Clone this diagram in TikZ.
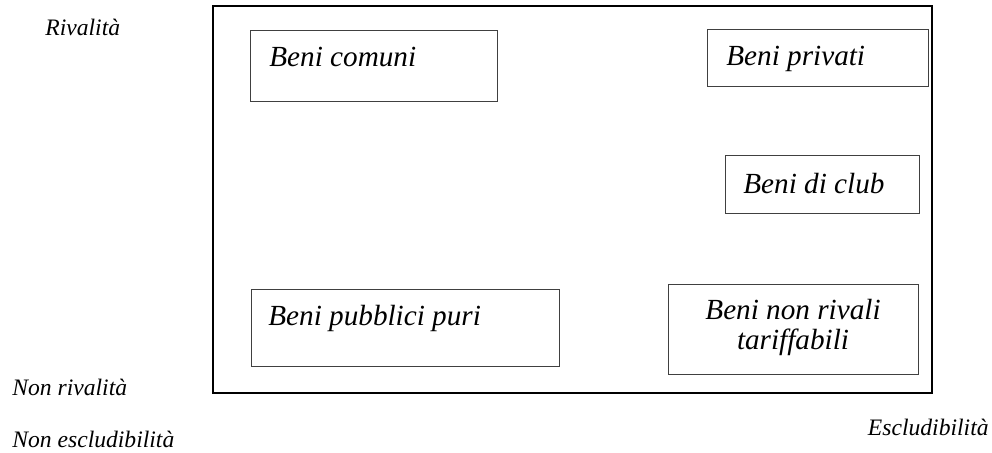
\documentclass[tikz,border=0pt]{standalone}
\usepackage{fontspec}
\setmainfont{Liberation Serif}
\tikzset{
  beni plane/.style={
    x=0.5pt,
    y=-0.5pt,
    line join=miter
  },
  beni outer/.style={
    line width=1.25pt
  },
  beni box/.style={
    draw=black!75,
    line width=0.5pt
  },
  beni label/.style={
    font=\fontsize{14.6}{15}\selectfont\itshape,
    inner sep=0pt
  },
  beni axis/.style={
    font=\fontsize{11.8}{13}\selectfont\itshape,
    inner sep=0pt
  }
}
\begin{document}
\begin{tikzpicture}[beni plane]
  \useasboundingbox (0,0) rectangle (992,452);

  \draw[beni outer] (213,6) rectangle (932,393);

  \draw[beni box] (250,30) rectangle (497,101);
  \node[beni label,anchor=base west] (comuni) at (269,66) {Beni comuni};

  \draw[beni box] (707,29) rectangle (928,86);
  \node[beni label,anchor=base west] (privati) at (726,65) {Beni privati};

  \draw[beni box] (725,155) rectangle (919,213);
  \node[beni label,anchor=base west] (club) at (743,193) {Beni di club};

  \draw[beni box] (251,289) rectangle (559,366);
  \node[beni label,anchor=base west] (puri) at (268,325) {Beni pubblici puri};

  \draw[beni box] (668,284) rectangle (918,374);
  \node[beni label,align=center,anchor=north] (tariffabili) at (793,299)
    {Beni non rivali\\tariffabili};

  \node[beni axis,anchor=base west] (rival) at (45,35) {Rivalità};
  \node[beni axis,anchor=base west] (nonrival) at (12,395) {Non rivalità};
  \node[beni axis,anchor=base west] (nonescl) at (12,447) {Non escludibilità};
  \node[beni axis,anchor=base east] (escl) at (989,435) {Escludibilità};

\end{tikzpicture}
\end{document}
